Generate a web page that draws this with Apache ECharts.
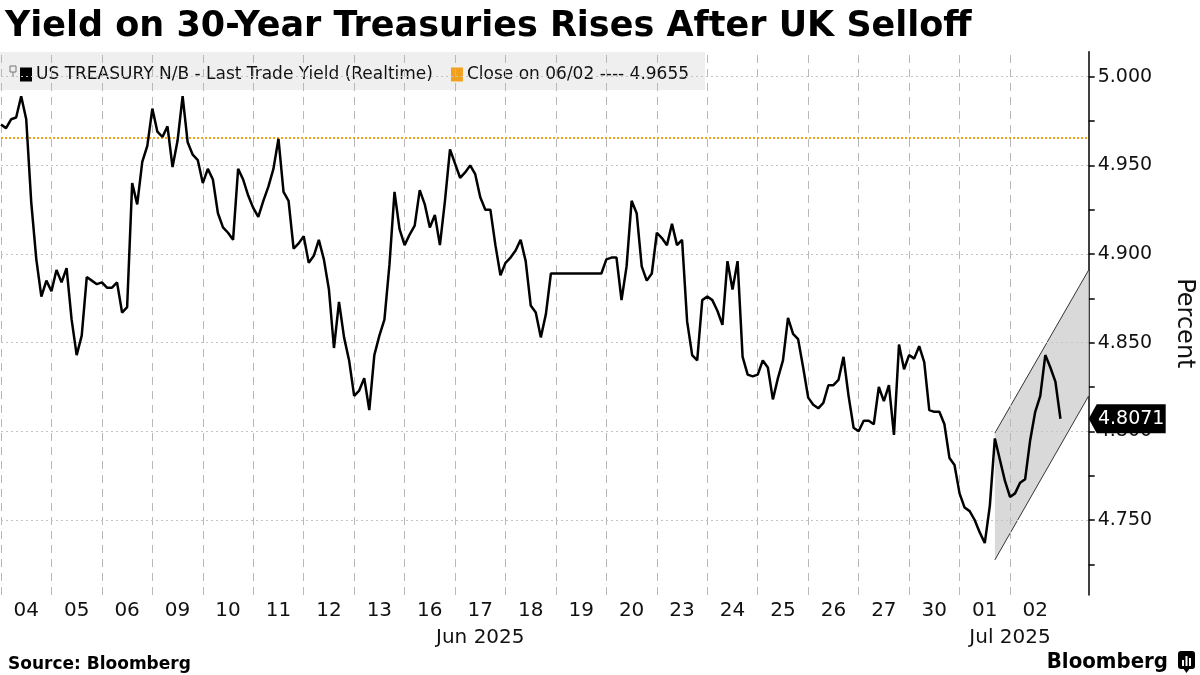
<!DOCTYPE html>
<html>
<head>
<meta charset="utf-8">
<script src="https://cdn.jsdelivr.net/npm/echarts@6/dist/echarts.min.js"></script>
<style>
html,body{margin:0;padding:0;background:#fff;}
#c{width:1200px;height:675px;}
</style>
</head>
<body>
<div id="c"></div>
<script>
// ---- data ----
const dayLabels = ['04','05','06','09','10','11','12','13','16','17','18','19','20','23','24','25','26','27','30','01','02'];
const monthLabels = ['Jun 2025', 'Jul 2025'];
const monthCenters = [9.5, 20.0];           // in trading-day units
const samplesPerDay = 10;                   // readings per trading day
const yields = [
  4.973,4.971,4.976,4.977,4.989,4.976,4.929,4.897,4.876,4.885,   // 04
  4.879,4.891,4.884,4.892,4.863,4.843,4.854,4.887,4.885,4.883,   // 05
  4.884,4.881,4.881,4.884,4.867,4.870,4.940,4.928,4.952,4.961,   // 06
  4.982,4.969,4.966,4.972,4.949,4.964,4.989,4.963,4.956,4.953,   // 09
  4.940,4.948,4.942,4.923,4.915,4.912,4.908,4.948,4.942,4.933,   // 10
  4.926,4.921,4.930,4.938,4.948,4.965,4.935,4.930,4.903,4.906,   // 11
  4.910,4.895,4.899,4.908,4.897,4.880,4.847,4.873,4.853,4.840,   // 12
  4.820,4.823,4.830,4.812,4.843,4.854,4.863,4.894,4.935,4.914,   // 13
  4.905,4.911,4.916,4.936,4.928,4.915,4.922,4.905,4.930,4.959,   // 16
  4.951,4.943,4.946,4.950,4.945,4.932,4.925,4.925,4.905,4.888,   // 17
  4.895,4.898,4.902,4.908,4.896,4.871,4.867,4.853,4.866,4.889,   // 18
  4.889,4.889,4.889,4.889,4.889,4.889,4.889,4.889,4.889,4.889,   // 19 (holiday)
  4.897,4.898,4.898,4.874,4.893,4.930,4.923,4.893,4.885,4.889,   // 20
  4.912,4.909,4.905,4.917,4.905,4.908,4.862,4.843,4.840,4.874,   // 23
  4.876,4.874,4.868,4.860,4.896,4.880,4.896,4.842,4.832,4.831,   // 24
  4.832,4.840,4.836,4.818,4.830,4.840,4.864,4.855,4.852,4.836,   // 25
  4.819,4.815,4.813,4.816,4.826,4.826,4.829,4.842,4.820,4.802,   // 26
  4.800,4.806,4.806,4.804,4.825,4.817,4.826,4.798,4.849,4.835,   // 27
  4.843,4.841,4.848,4.839,4.812,4.811,4.811,4.804,4.785,4.781,   // 30
  4.765,4.757,4.755,4.750,4.743,4.737,4.758,4.796,4.784,4.772,   // 01
  4.763,4.765,4.771,4.773,4.795,4.811,4.820,4.843,4.836,4.828,   // 02
  4.8071
];
const closeLabel = 'Close on 06/02 ---- 4.9655';
const closeValue = 4.9655;
const seriesLabel = 'US TREASURY N/B - Last Trade Yield (Realtime)';
const yTickValues = [4.75, 4.80, 4.85, 4.90, 4.95, 5.00];
const yMinorTickValues = [4.725, 4.775, 4.825, 4.875, 4.925, 4.975];
const dayBoundaries = [0,1,2,3,4,5,6,7,8,9,10,11,12,13,14,15,16,17,18,19,20];
const channelX = [19.7, 21.56];
const channelUpper = [4.799, 4.891];
const channelLower = [4.7275, 4.820];

// ---- axis settings ----
const X_MAX = 21.56;
const Y_MIN = 4.7077, Y_MAX = 5.0141;
const FONT = '"DejaVu Sans", "Liberation Sans", sans-serif';
const FONT_C = '"DejaVu Sans Condensed", "DejaVu Sans", sans-serif';
const ORANGE = '#f2a11f';

const lineData = yields.map((v, i) => [i / samplesPerDay, v]);
const lastValue = yields[yields.length - 1];

const chart = echarts.init(document.getElementById('c'), null, {renderer: 'canvas'});
chart.setOption({
  animation: false,
  backgroundColor: '#fff',
  textStyle: {fontFamily: FONT},
  title: [
    {text: 'Yield on 30-Year Treasuries Rises After UK Selloff', left: 0, top: 4,
     textStyle: {fontSize: 35, fontWeight: 'bold', color: '#000', fontFamily: FONT}},
    {text: 'Source: Bloomberg', left: 3, top: 651,
     textStyle: {fontSize: 17, fontWeight: 'bold', color: '#000', fontFamily: FONT}},
    {text: 'Bloomberg', right: 27, top: 646,
     textStyle: {fontSize: 22, fontWeight: 'bold', color: '#000', fontFamily: FONT_C}}
  ],
  graphic: [
    {type: 'rect', z: 0, shape: {x: 0, y: 52, width: 705, height: 38}, style: {fill: '#efefef'}},
    {type: 'rect', z: 5, shape: {x: 10, y: 66, width: 6, height: 6}, style: {fill: 'none', stroke: '#777', lineWidth: 1}},
    {type: 'line', z: 5, shape: {x1: 13, y1: 72, x2: 13, y2: 77}, style: {stroke: '#777', lineWidth: 1}},
    {type: 'rect', z: 5, shape: {x: 1178, y: 651, width: 17, height: 18, r: 3}, style: {fill: '#000'}},
    {type: 'polygon', z: 5, shape: {points: [[1183, 668], [1190, 668], [1186.5, 673]]}, style: {fill: '#000'}},
    {type: 'rect', z: 6, shape: {x: 1182, y: 660, width: 2, height: 6}, style: {fill: '#fff'}},
    {type: 'rect', z: 6, shape: {x: 1185.5, y: 656, width: 2, height: 10}, style: {fill: '#fff'}},
    {type: 'rect', z: 6, shape: {x: 1189, y: 658, width: 2, height: 8}, style: {fill: '#fff'}}
  ],
  legend: {
    left: 15, top: 61,
    data: [
      {name: seriesLabel, icon: 'rect', itemStyle: {color: '#000', borderWidth: 0}},
      {name: closeLabel, icon: 'rect', itemStyle: {color: ORANGE, borderWidth: 0}}
    ],
    itemWidth: 12, itemHeight: 14, itemGap: 18,
    textStyle: {fontSize: 17, color: '#111', fontFamily: FONT, padding: [0, 0, 0, -1]},
    selectedMode: false
  },
  grid: {left: 1, right: 111.3, top: 51.7, bottom: 80, containLabel: false, outerBoundsMode: 'none'},
  xAxis: [
    {type: 'value', min: 0, max: X_MAX, position: 'bottom',
     axisLine: {show: false}, axisTick: {show: false}, splitLine: {show: false},
     axisLabel: {customValues: dayLabels.map((d, i) => i + 0.5),
                 formatter: v => dayLabels[Math.floor(v)],
                 fontSize: 20, color: '#111', margin: 6, fontFamily: FONT}},
    {type: 'value', min: 0, max: X_MAX, position: 'bottom',
     axisLine: {show: false}, axisTick: {show: false}, splitLine: {show: false},
     axisLabel: {customValues: monthCenters,
                 formatter: v => monthLabels[monthCenters.indexOf(v)],
                 fontSize: 20, color: '#111', margin: 33, fontFamily: FONT}}
  ],
  yAxis: {
    type: 'value', position: 'right', min: Y_MIN, max: Y_MAX,
    axisLine: {show: true, onZero: false, lineStyle: {color: '#000', width: 1.5}},
    axisTick: {show: true, customValues: yTickValues.concat(yMinorTickValues), length: 6, lineStyle: {color: '#000', width: 1.5}},
    axisLabel: {customValues: yTickValues, formatter: v => v.toFixed(3), fontSize: 19, color: '#111', margin: 9, fontFamily: FONT},
    splitLine: {show: false},
    name: 'Percent', nameLocation: 'middle', nameRotate: -90, nameGap: 84,
    nameTextStyle: {fontSize: 24, color: '#111', fontFamily: FONT}
  },
  series: [
    { // grid lines
      type: 'line', name: 'grid', data: [], z: 1, silent: true,
      markLine: {
        silent: true, symbol: ['none', 'none'], label: {show: false}, animation: false, precision: 4,
        data: dayBoundaries.map(b => ({xAxis: b, lineStyle: {color: '#b8b8b8', width: 1, type: [8, 6]}}))
          .concat(yTickValues.map(v => ({yAxis: v, lineStyle: {color: '#c4c4c4', width: 1, type: [2, 3]}})))
      }
    },
    { // channel
      type: 'custom', name: 'channel', z: 2, silent: true, clip: false,
      data: [[channelX[0], channelLower[0]]],
      renderItem: function (params, api) {
        const u0 = api.coord([channelX[0], channelUpper[0]]);
        const u1 = api.coord([channelX[1], channelUpper[1]]);
        const l0 = api.coord([channelX[0], channelLower[0]]);
        const l1 = api.coord([channelX[1], channelLower[1]]);
        return {
          type: 'group',
          children: [
            {type: 'polygon', shape: {points: [u0, u1, l1, l0]}, style: {fill: '#d9d9d9'}},
            {type: 'line', shape: {x1: u0[0], y1: u0[1], x2: u1[0], y2: u1[1]}, style: {stroke: '#333', lineWidth: 1}},
            {type: 'line', shape: {x1: l0[0], y1: l0[1], x2: l1[0], y2: l1[1]}, style: {stroke: '#333', lineWidth: 1}}
          ]
        };
      }
    },
    { // close reference
      type: 'line', name: closeLabel, data: [], z: 3, color: ORANGE,
      itemStyle: {color: ORANGE}, lineStyle: {color: ORANGE},
      markLine: {
        silent: true, symbol: ['none', 'none'], label: {show: false}, animation: false, precision: 4,
        data: [{yAxis: closeValue}],
        lineStyle: {color: ORANGE, width: 2, type: [2, 2]}
      }
    },
    { // yield line
      type: 'line', name: seriesLabel, data: lineData, z: 5, color: '#000',
      showSymbol: false, symbol: 'none',
      itemStyle: {color: '#000'},
      lineStyle: {color: '#000', width: 2.5},
      markPoint: {
        silent: true, animation: false,
        data: [{coord: [X_MAX, lastValue]}],
        symbol: 'path://M0,14.5 L8,0 L77,0 L77,29 L8,29 Z',
        symbolSize: [77, 29], symbolOffset: [38.5, 0], symbolKeepAspect: false,
        itemStyle: {color: '#000'},
        label: {show: true, position: 'inside', offset: [4, 0], formatter: () => lastValue.toFixed(4),
                color: '#fff', fontSize: 19, fontFamily: FONT}
      }
    }
  ]
});
</script>
</body>
</html>
